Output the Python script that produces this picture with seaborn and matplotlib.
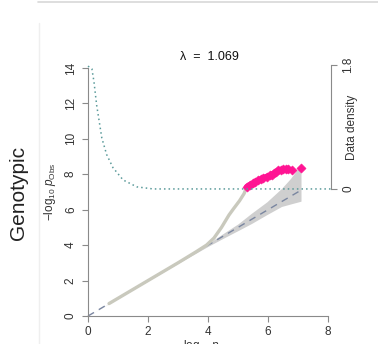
import matplotlib
matplotlib.use("Agg")
import matplotlib.pyplot as plt
import seaborn as sns
import numpy as np
import pandas as pd
from matplotlib.lines import Line2D

sns.set_style("white")
plt.rcParams['font.family'] = ['Liberation Sans', 'DejaVu Sans']
plt.rcParams['mathtext.fontset'] = 'custom'
plt.rcParams['mathtext.rm'] = 'Liberation Sans'
plt.rcParams['mathtext.it'] = 'Liberation Sans:italic'

# ---- data ----
x_ticks = [0, 2, 4, 6, 8]
y_ticks = [0, 2, 4, 6, 8, 10, 12, 14]
dens_ticks = [0, 1.8]
dens_ticklabels = ["0", "1.8"]
lambda_text = "λ  =  1.069"

# observed vs expected (grey part)
qq_x = [0.7, 1.0, 2.0, 3.0, 3.6, 3.95, 4.2, 4.45, 4.7, 4.85, 5.05, 5.2, 5.3]
qq_y = [0.7, 1.0, 2.0, 3.0, 3.62, 4.0, 4.4, 5.0, 5.7, 6.05, 6.5, 6.9, 7.3]

# significant hits (pink)
sig_x = [5.29, 5.4, 5.5, 5.57, 5.65, 5.75, 5.84, 5.95, 6.05, 6.12, 6.2, 6.28, 6.34,
         6.42, 6.51, 6.6, 6.68, 6.79, 7.1]
sig_y = [7.3, 7.42, 7.5, 7.57, 7.65, 7.72, 7.8, 7.87, 7.93, 7.98, 8.06, 8.14, 8.22,
         8.25, 8.28, 8.27, 8.28, 8.24, 8.33]

# confidence band
band_x = [0.0, 3.0, 4.0, 4.5, 5.0, 5.45, 5.96, 6.45, 6.75, 7.1]
band_lo = [0.0, 2.97, 3.93, 4.38, 4.82, 5.22, 5.72, 6.18, 6.32, 6.48]
band_hi = [0.0, 3.03, 4.08, 4.65, 5.2, 5.8, 6.44, 7.2, 7.76, 8.55]

# diagonal
diag_x = [0.0, 7.1]
diag_y = [0.0, 7.1]

# data density (right axis)
dens_x = [0.0, 0.13, 0.2, 0.29, 0.46, 0.62, 0.83, 1.17, 1.63, 2.17, 3.0, 8.1]
dens_y = [1.78, 1.74, 1.55, 1.21, 0.74, 0.50, 0.31, 0.13, 0.03, 0.0, 0.0, 0.0]

W, H = 378, 344
fig = plt.figure(figsize=(W / 100, H / 100), dpi=100)

# axes placement in pixels
px_per_x = 30.0
px_per_y = 17.72
x0_px, y0_px = 88.0, 316.0
xlim = (-0.05, 8.1)
ylim = (-0.1, 14.5)
left_px = x0_px + xlim[0] * px_per_x
width_px = (xlim[1] - xlim[0]) * px_per_x
bottom_px = y0_px - ylim[0] * px_per_y
height_px = (ylim[1] - ylim[0]) * px_per_y
ax = fig.add_axes([left_px / W, (H - bottom_px) / H, width_px / W, height_px / H])
ax.set_xlim(*xlim)
ax.set_ylim(*ylim)

axcol = "#8a8a8a"
txtcol = "#333333"

ax.fill_between(band_x, band_lo, band_hi, color="#cfcfcf", lw=0, zorder=1)
sns.lineplot(x=diag_x, y=diag_y, ax=ax, color="#7a86a0", lw=1.0,
             linestyle=(0, (5, 4)), zorder=2, sort=False)
sns.lineplot(x=qq_x, y=qq_y, ax=ax, color="#c9c9bd", lw=2.4, zorder=3, sort=False)
sns.lineplot(x=sig_x[:-1], y=sig_y[:-1], ax=ax, color="#ff1493", lw=4.0, zorder=4, sort=False)
sns.scatterplot(x=sig_x, y=sig_y, ax=ax, color="#ff1493", marker="D", s=22,
                edgecolor="#ff1493", zorder=5)

ax2 = ax.twinx()
ax2.set_position(ax.get_position())
k = 1.8 / (14.18 - 7.17)
ax2.set_ylim((ylim[0] - 7.17) * k, (ylim[1] - 7.17) * k)
sns.lineplot(x=dens_x, y=dens_y, ax=ax2, color="#5a9a9a", lw=1.1,
             linestyle=(0, (1, 2)), zorder=6, sort=False)
ax2.set_xlim(*xlim)

for a in (ax, ax2):
    for s in a.spines.values():
        s.set_visible(False)
    a.set_xlabel("")
    a.set_ylabel("")

ax.spines['left'].set_visible(True)
ax.spines['bottom'].set_visible(True)
ax.spines['left'].set_bounds(0, 14)
ax.spines['bottom'].set_bounds(0, 8)
ax.spines['left'].set_color(axcol)
ax.spines['bottom'].set_color(axcol)
ax.spines['left'].set_position(('data', 0))
ax.spines['bottom'].set_position(('data', 0))
ax.set_xticks(x_ticks)
ax.set_yticks(y_ticks)
ax.set_xticklabels([str(v) for v in x_ticks])
ax.set_yticklabels([str(v) for v in y_ticks], rotation=90, va='center')
ax.tick_params(axis='both', direction='out', length=4, width=0.8, color=axcol,
               labelcolor=txtcol, labelsize=8.5, pad=3)
ax.tick_params(axis='y', pad=4)
ax.tick_params(axis='x', bottom=True, labelbottom=True)

ax2.spines['right'].set_visible(True)
ax2.spines['right'].set_bounds(0, 1.8)
ax2.spines['right'].set_color(axcol)
ax2.set_yticks(dens_ticks)
ax2.set_yticklabels(dens_ticklabels, rotation=90, va='center')
ax2.tick_params(axis='y', direction='out', length=4, width=0.8, color=axcol,
                labelcolor=txtcol, labelsize=8.5, pad=4)
ax2.tick_params(axis='x', bottom=False, labelbottom=False, top=False, labeltop=False)

# texts
fig.text(209 / W, 1 - 57 / H, lambda_text, ha='center', va='center',
         fontsize=9, color="#111111")
fig.text(352 / W, 1 - 127 / H, "Data density", rotation=90, ha='center',
         va='center', fontsize=8.5, color=txtcol)
fig.text(50 / W, 1 - 192 / H, r"$-\log_{10}\,p_{\mathrm{Obs}}$", rotation=90,
         ha='center', va='center', fontsize=8.5, color=txtcol)
fig.text(19 / W, 1 - 193 / H, "Genotypic", rotation=90, ha='center',
         va='center', fontsize=15, color="#222222")
fig.text(208 / W, 1 - 349 / H, r"$\log_{10}\,p_{\mathrm{Exp}}$", ha='center',
         va='baseline', fontsize=8.5, color=txtcol)

# panel border lines
fig.add_artist(Line2D([38 / W, 1], [1 - 1.7 / H, 1 - 1.7 / H],
                      transform=fig.transFigure, color="#d8d8d8", lw=1.2))
fig.add_artist(Line2D([39 / W, 39 / W], [1 - 23 / H, 0],
                      transform=fig.transFigure, color="#efefef", lw=1.0))

fig.savefig("out.png", dpi=100)
